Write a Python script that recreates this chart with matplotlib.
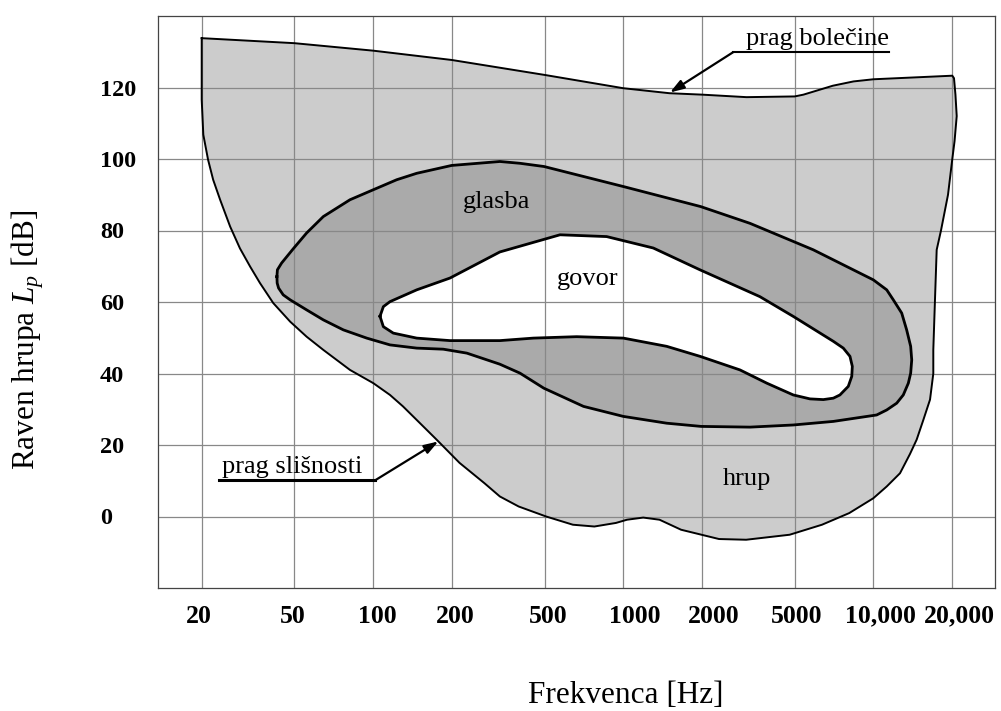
import numpy as np
import matplotlib.pyplot as plt
from matplotlib.ticker import FixedLocator, NullLocator
from matplotlib.transforms import ScaledTranslation

plt.rcParams['font.family'] = ['Liberation Serif', 'DejaVu Serif']
plt.rcParams['mathtext.fontset'] = 'custom'
plt.rcParams['mathtext.rm'] = 'Liberation Serif'
plt.rcParams['mathtext.it'] = 'Liberation Serif:italic'

# frequency axis ticks (printed scale is not a clean log scale)
tick_hz = [20, 50, 100, 200, 500, 1000, 2000, 5000, 10000, 20000]
tick_labels = ['20', '50', '100', '200', '500', '1000', '2000', '5000', '10,000', '20,000']
db_ticks = [0, 20, 40, 60, 80, 100, 120]

# prag bolecine (upper edge), left -> right
pain_hz = [20, 50, 100, 200, 500, 1000, 1500, 2000, 3100, 5000, 5400, 7000, 8400, 10000, 20000]
pain_db = [133.8, 132.4, 130.3, 127.7, 123.5, 119.8, 118.4, 118.0, 117.3, 117.5, 118.0, 120.5, 121.7, 122.3, 123.3]

# right edge + prag slisnosti (lower edge), right -> left
hear_hz = [20300, 20560, 20790, 20400, 20000, 19260, 18110, 17440, 17180, 16930, 16930, 16450,
           15510, 14630, 13800, 12640, 11250, 10000, 8085, 6360, 4756, 3090, 2360, 1660, 1374,
           1191, 1033, 937, 774, 640, 505, 386, 321, 276, 216, 175, 151.1, 130, 115.9, 100,
           81.5, 64.5, 55.7, 48, 40.6, 35.6, 32.3, 29.2, 26.5, 24.0, 22.4, 21.3, 20.32, 20]
hear_db = [122.6, 118, 112, 105, 100, 90, 80, 74.6, 60.6, 46.6, 40, 32.7,
           27.0, 21.5, 17.5, 12.1, 8.4, 5.1, 0.95, -2.3, -5.1, -6.5, -6.3, -3.7, -0.9,
           -0.3, -0.9, -1.8, -2.8, -2.3, 0, 2.8, 5.6, 9.3, 15.0, 21.5, 26.1, 30.8, 34.0, 37.3,
           41.0, 46.6, 50.3, 54.5, 59.7, 65.3, 69.9, 75.0, 81.1, 88.6, 94.2, 99.8, 106.8, 116.6]

# glasba
music_hz = [42.1, 42.3, 44.1, 49.5, 55.7, 64.5, 81.5, 100, 123, 146.8, 200, 321, 391, 495,
            1000, 1970, 3210, 5890, 10000, 11250, 11920, 12830, 13400, 13880, 14010, 13880,
            13600, 13010, 12280, 11250, 10300, 7030, 4930, 3210, 1980, 1463, 1000, 703, 494,
            391, 321, 232, 185.7, 146.8, 115.9, 94.4, 76.9, 64.5, 55.7, 48, 44.8, 42.8, 42.2]
music_db = [67.1, 69.0, 70.9, 74.9, 79.3, 83.9, 88.6, 91.4, 94.2, 96.0, 98.2, 99.3, 98.8, 97.9,
            92.3, 86.7, 82.0, 74.6, 66.2, 63.4, 60.6, 56.9, 52.2, 47.6, 43.8, 40.1,
            37.3, 34.0, 31.7, 29.8, 28.4, 26.6, 25.6, 25.0, 25.2, 26.1, 28.0, 30.8, 35.9,
            40.1, 42.6, 45.7, 46.8, 47.1, 48.0, 49.9, 52.2, 55.0, 57.8, 60.6, 62.0, 63.9, 65.3]

# govor
speech_hz = [106.1, 109.3, 115.9, 146.8, 197, 321, 571, 863, 1301, 1960, 3540, 4950, 7030,
             7675, 8140, 8310, 8270, 8020, 7450, 7030, 6435, 5720, 4930, 3790, 2906, 1960,
             1463, 1000, 662, 446, 321, 197, 146.8, 119.3, 109.3]
speech_db = [56.0, 58.7, 60.1, 63.4, 66.7, 74.0, 78.8, 78.3, 75.1, 69.0, 61.5, 55.9, 49.0,
             47.1, 44.8, 42.0, 39.2, 36.4, 34.0, 33.1, 32.7, 32.9, 34.0, 37.3, 41.0, 44.8,
             47.6, 49.9, 50.3, 49.9, 49.2, 49.2, 49.9, 51.3, 53.1]

# piecewise log scale so grid lines sit where the printed chart has them
scale_log = np.log10([10] + tick_hz + [40000])
scale_pos = np.array([131.7, 201.7, 294.3, 373.3, 451.7, 545.0, 623.3, 702.3, 794.7, 873.3, 952.3, 1031.3])
# the printed tick labels are not exactly centred on their grid lines (pixels)
label_shift = [-3, -2, 4, 4, 3, 11, 11, 2, 7, 7]


def fwd(f):
    return np.interp(np.log10(np.clip(f, 1e-6, None)), scale_log, scale_pos)


def inv(p):
    return 10 ** np.interp(p, scale_pos, scale_log)


fig = plt.figure(figsize=(10.01, 7.11), dpi=100)
ax = fig.add_axes([158 / 1001, 123 / 711, 837 / 1001, 572 / 711])
ax.set_xscale('function', functions=(fwd, inv))
ax.set_xlim(inv(158), inv(995))
ax.set_ylim(-20, 140)

outer_hz = pain_hz + hear_hz
outer_db = pain_db + hear_db
ax.fill(outer_hz, outer_db, color='#cccccc', lw=0, zorder=1)
ax.fill(music_hz, music_db, color='#aaaaaa', lw=0, zorder=1.1)
ax.fill(speech_hz, speech_db, color='white', lw=0, zorder=1.2)

ax.plot(outer_hz + outer_hz[:1], outer_db + outer_db[:1], color='black', lw=1.4, zorder=3)
ax.plot(music_hz + music_hz[:1], music_db + music_db[:1], color='black', lw=2, zorder=3)
ax.plot(speech_hz + speech_hz[:1], speech_db + speech_db[:1], color='black', lw=2, zorder=3)

ax.xaxis.set_major_locator(FixedLocator(tick_hz))
ax.xaxis.set_minor_locator(NullLocator())
ax.set_xticklabels(tick_labels)
ax.set_yticks(db_ticks)
ax.grid(True, color='#888888', lw=0.9)
ax.tick_params(length=0)
ax.tick_params(axis='x', pad=12, labelsize=18.5)
ax.tick_params(axis='y', pad=41.8, labelsize=17.5)
for lbl in ax.get_xticklabels() + ax.get_yticklabels():
    lbl.set_fontweight('bold')
for lbl in ax.get_yticklabels():
    lbl.set_horizontalalignment('left')
for lbl, dx in zip(ax.get_xticklabels(), label_shift):
    lbl.set_transform(lbl.get_transform() + ScaledTranslation(dx / 100, 0, fig.dpi_scale_trans))
for s in ax.spines.values():
    s.set_color('#444444')
    s.set_linewidth(0.9)

ax.set_xlabel('Frekvenca [Hz]', fontsize=22.5, va='center')
ax.xaxis.set_label_coords(0.559, -0.188)
ax.set_ylabel(r'Raven hrupa $L_p$ [dB]', fontsize=22.5, va='center')
ax.yaxis.set_label_coords(-0.156, 0.434)

ax.text(312, 86.3, 'glasba', fontsize=19, ha='center', va='baseline', zorder=4)
ax.text(728, 64.8, 'govor', fontsize=19, ha='center', va='baseline', zorder=4)
ax.text(3107, 8.9, 'hrup', fontsize=19, ha='center', va='baseline', zorder=4)

arrow = dict(arrowstyle='-|>,head_length=0.6,head_width=0.2', color='black', lw=1.6,
             mutation_scale=14, shrinkA=0, shrinkB=0)

# prag bolecine
ax.text(6090, 131.8, 'prag bolečine', fontsize=19, ha='center', va='baseline', zorder=4)
ax.plot([2720, 11510], [129.9, 129.9], color='black', lw=1.5, zorder=4)
ax.annotate('', xy=(1506, 118.6), xytext=(2720, 129.9), arrowprops=arrow, zorder=4)

# prag slisnosti
ax.text(49.1, 12.1, 'prag slišnosti', fontsize=19, ha='center', va='baseline', zorder=4)
ax.plot([23.7, 101.5], [10.1, 10.1], color='black', lw=2.2, zorder=4)
ax.annotate('', xy=(177.7, 21.0), xytext=(101.5, 10.1), arrowprops=arrow, zorder=4)

fig.savefig('out.png', dpi=100)
